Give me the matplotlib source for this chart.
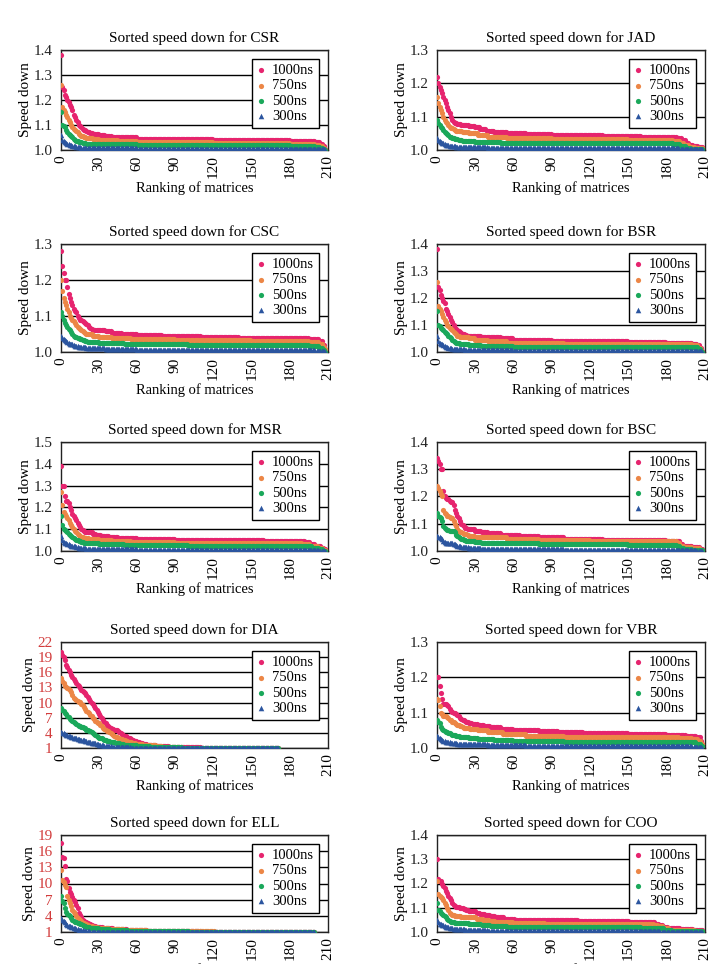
import matplotlib
matplotlib.use("Agg")
import matplotlib.pyplot as plt
import numpy as np

plt.rcParams['font.family'] = ['Liberation Serif', 'DejaVu Serif']

# series data: a float is one matrix, a tuple (value, count) is a run of equal values
csr_1000 = [1.38, 1.25, 1.24, 1.22, 1.21, 1.20, 1.19, 1.18, 1.17, 1.16, 1.14, 1.13, 1.12, 1.11, 1.10,
            1.095, 1.09, 1.085, 1.08, 1.078, 1.075, (1.07, 2), (1.066, 2), (1.062, 5), (1.06, 5),
            (1.057, 5), (1.053, 10), (1.05, 10), (1.045, 30), (1.042, 30), (1.04, 30), (1.038, 30),
            (1.035, 20), (1.03, 4), (1.025, 2), (1.015, 2), (1.005, 1)]
csr_750 = [1.26, 1.17, 1.16, 1.15, 1.14, 1.13, 1.12, 1.11, 1.10, 1.09, 1.085, 1.08, 1.075, 1.07, 1.065,
           1.06, 1.057, 1.055, 1.052, 1.05, (1.047, 5), (1.044, 5), (1.04, 15), (1.035, 15), (1.032, 30),
           (1.03, 30), (1.028, 60), (1.025, 20), (1.02, 4), (1.015, 2), (1.008, 2), (1.0, 1)]
csr_500 = [1.15, 1.10, 1.095, 1.09, 1.08, 1.07, 1.065, 1.06, 1.055, 1.05, 1.045, 1.04, 1.037, 1.035, 1.033,
           1.031, 1.03, 1.028, 1.027, 1.026, (1.025, 10), (1.022, 30), (1.02, 60), (1.018, 60), (1.015, 20),
           (1.012, 4), (1.008, 2), (1.004, 2), (1.0, 1)]
csr_300 = [1.06, 1.04, 1.035, 1.03, 1.028, 1.025, 1.022, 1.02, 1.018, 1.017, 1.015, 1.014, 1.013, 1.012,
           1.011, 1.01, (1.009, 4), (1.008, 10), (1.006, 30), (1.005, 60), (1.004, 80), (1.003, 4),
           (1.002, 4), (1.0, 1)]

jad_1000 = [1.22, 1.20, 1.19, 1.18, 1.17, 1.16, 1.15, 1.14, 1.13, 1.12, 1.11, 1.10, 1.09, 1.085, 1.082, 1.08,
            1.079, 1.078, 1.077, 1.076, (1.075, 5), (1.072, 5), (1.068, 4), (1.063, 5), (1.058, 6),
            (1.055, 10), (1.05, 15), (1.048, 20), (1.045, 40), (1.042, 30), (1.04, 20), (1.038, 8),
            (1.035, 4), (1.03, 3), (1.022, 3), (1.015, 3), (1.012, 4), (1.01, 4)]
jad_750 = [1.16, 1.14, 1.13, 1.12, 1.11, 1.10, 1.09, 1.085, 1.08, 1.075, 1.07, 1.067, 1.065, 1.063, 1.06,
           (1.057, 5), (1.055, 5), (1.05, 7), (1.045, 8), (1.04, 15), (1.036, 35), (1.033, 60), (1.03, 35),
           (1.028, 6), (1.022, 3), (1.015, 4), (1.01, 4), (1.007, 7)]
jad_500 = [1.09, 1.08, 1.075, 1.07, 1.065, 1.06, 1.055, 1.05, 1.047, 1.044, 1.04, 1.038, 1.036, 1.035, 1.034,
           1.033, 1.032, 1.031, 1.031, 1.03, (1.028, 10), (1.025, 20), (1.022, 50), (1.02, 85), (1.018, 6),
           (1.012, 4), (1.007, 4), (1.004, 10)]
jad_300 = [1.035, 1.03, 1.028, 1.025, 1.022, 1.02, 1.018, 1.016, 1.015, 1.014, 1.013, 1.012, 1.012, 1.011,
           1.011, (1.01, 10), (1.008, 15), (1.006, 40), (1.005, 110), (1.004, 8), (1.002, 11)]

csc_1000 = [1.28, 1.24, 1.22, 1.20, 1.20, 1.18, 1.16, 1.15, 1.14, 1.13, 1.12, 1.115, 1.11, 1.10, 1.095, 1.09,
            1.088, 1.085, 1.082, 1.08, 1.078, 1.075, 1.07, 1.066, 1.064, (1.062, 5), (1.06, 5), (1.057, 5),
            (1.053, 8), (1.05, 12), (1.048, 20), (1.045, 30), (1.042, 30), (1.04, 30), (1.038, 25),
            (1.035, 8), (1.03, 3), (1.02, 2), (1.005, 1)]
csc_750 = [1.20, 1.17, 1.15, 1.14, 1.13, 1.12, 1.11, 1.10, 1.095, 1.09, 1.085, 1.08, 1.075, 1.07, 1.068,
           1.065, 1.06, 1.058, 1.055, 1.052, (1.05, 5), (1.045, 5), (1.042, 10), (1.04, 15), (1.035, 35),
           (1.033, 60), (1.03, 45), (1.028, 8), (1.022, 3), (1.015, 2), (1.008, 1)]
csc_500 = [1.11, 1.10, 1.09, 1.08, 1.075, 1.07, 1.065, 1.06, 1.055, 1.05, 1.045, 1.043, 1.042, 1.04, 1.038,
           1.037, 1.035, 1.033, 1.032, 1.031, 1.03, 1.029, (1.027, 8), (1.025, 20), (1.022, 50), (1.02, 95),
           (1.018, 8), (1.012, 3), (1.006, 2), (1.0, 1)]
csc_300 = [1.045, 1.04, 1.035, 1.032, 1.03, 1.028, 1.025, 1.023, 1.022, 1.021, 1.02, 1.018, 1.017, 1.016,
           1.015, (1.013, 5), (1.012, 5), (1.01, 10), (1.008, 25), (1.006, 40), (1.005, 100), (1.004, 5),
           (1.002, 3), (1.0, 1)]

bsr_1000 = [1.38, 1.24, 1.23, 1.21, 1.20, 1.19, 1.18, 1.16, 1.15, 1.14, 1.13, 1.12, 1.11, 1.10, 1.09, 1.085,
            1.08, 1.078, 1.075, 1.07, 1.068, 1.065, 1.063, 1.062, (1.06, 6), (1.058, 5), (1.055, 15),
            (1.05, 10), (1.045, 30), (1.042, 30), (1.04, 30), (1.038, 30), (1.035, 20), (1.03, 4),
            (1.025, 2), (1.015, 2), (1.005, 1)]
bsr_750 = [1.26, 1.17, 1.16, 1.15, 1.14, 1.13, 1.12, 1.11, 1.10, 1.095, 1.09, 1.085, 1.08, 1.075, 1.07,
           1.065, 1.06, 1.058, 1.057, 1.056, (1.055, 5), (1.05, 5), (1.045, 10), (1.04, 15), (1.035, 45),
           (1.03, 80), (1.028, 20), (1.025, 5), (1.015, 2), (1.007, 1), (1.0, 1)]
bsr_500 = [1.15, 1.10, 1.095, 1.09, 1.085, 1.08, 1.075, 1.07, 1.065, 1.06, 1.055, 1.05, 1.045, 1.04, 1.037,
           1.035, 1.033, 1.032, 1.031, 1.03, (1.028, 5), (1.025, 10), (1.022, 25), (1.02, 135), (1.018, 10),
           (1.01, 2), (1.004, 1), (1.0, 1)]
bsr_300 = [1.06, 1.04, 1.035, 1.03, 1.028, 1.025, 1.022, 1.02, 1.018, 1.016, 1.015, 1.014, 1.012, 1.011,
           1.011, (1.01, 7), (1.008, 13), (1.006, 25), (1.005, 60), (1.004, 85), (1.002, 3), (1.0, 1)]

msr_1000 = [1.39, 1.30, 1.30, 1.25, 1.23, 1.23, 1.22, 1.20, 1.19, 1.17, 1.16, 1.15, 1.14, 1.13, 1.12, 1.11,
            1.10, 1.095, 1.09, 1.088, (1.085, 5), (1.08, 3), (1.075, 4), (1.07, 6), (1.065, 7), (1.06, 15),
            (1.055, 30), (1.052, 40), (1.05, 30), (1.048, 25), (1.045, 7), (1.04, 4), (1.03, 4), (1.025, 5),
            (1.015, 2), (1.008, 2)]
msr_750 = [1.27, 1.21, 1.18, 1.17, 1.16, 1.15, 1.14, 1.13, 1.12, 1.11, 1.10, 1.09, 1.085, 1.08, 1.075, 1.07,
           1.065, 1.062, (1.06, 4), (1.055, 8), (1.05, 10), (1.045, 15), (1.04, 35), (1.038, 60), (1.035, 40),
           (1.033, 6), (1.025, 6), (1.015, 4), (1.005, 3)]
msr_500 = [1.16, 1.12, 1.10, 1.095, 1.09, 1.085, 1.08, 1.075, 1.07, 1.065, 1.06, 1.055, 1.052, 1.05, 1.047,
           1.045, 1.043, 1.04, (1.037, 4), (1.035, 8), (1.03, 20), (1.028, 50), (1.025, 90), (1.022, 8),
           (1.015, 5), (1.007, 3), (1.0, 3)]
msr_300 = [1.07, 1.05, 1.04, 1.038, 1.035, 1.033, 1.03, 1.028, 1.025, 1.023, 1.022, 1.021, 1.02, 1.018,
           1.016, 1.015, (1.012, 4), (1.01, 10), (1.008, 30), (1.006, 40), (1.005, 95), (1.003, 8), (1.001, 6)]

bsc_1000 = [1.34, 1.33, 1.32, 1.30, 1.30, 1.22, 1.20, 1.195, 1.19, 1.19, 1.185, 1.18, 1.18, 1.17, 1.15, 1.14,
            1.13, 1.12, 1.11, 1.10, 1.095, 1.09, 1.085, 1.083, 1.081, (1.08, 5), (1.075, 5), (1.07, 5),
            (1.065, 10), (1.06, 15), (1.055, 15), (1.05, 20), (1.045, 30), (1.042, 35), (1.04, 15),
            (1.038, 8), (1.035, 3), (1.025, 2), (1.02, 7), (1.015, 6), (1.008, 3)]
bsc_750 = [1.24, 1.23, 1.22, 1.21, 1.20, 1.15, 1.14, 1.135, 1.13, 1.13, 1.125, 1.12, 1.12, 1.11, 1.10, 1.09,
           1.08, 1.075, 1.07, 1.068, 1.065, 1.063, 1.062, 1.061, 1.06, (1.055, 5), (1.053, 10), (1.05, 15),
           (1.045, 25), (1.04, 40), (1.037, 50), (1.035, 18), (1.03, 3), (1.02, 3), (1.015, 6), (1.01, 6),
           (1.005, 3)]
bsc_500 = [1.14, 1.13, 1.125, 1.12, 1.11, 1.09, 1.085, 1.08, 1.078, 1.076, 1.075, 1.075, 1.074, 1.072, 1.07,
           1.06, 1.055, 1.05, 1.047, 1.045, 1.043, 1.042, 1.04, 1.038, 1.037, (1.035, 5), (1.032, 5),
           (1.03, 15), (1.028, 30), (1.025, 70), (1.023, 38), (1.018, 3), (1.012, 3), (1.008, 6),
           (1.005, 6), (1.002, 3)]
bsc_300 = [1.055, 1.053, 1.05, 1.048, 1.045, 1.035, 1.032, 1.03, 1.03, 1.03, 1.03, 1.029, 1.028, 1.027,
           1.025, 1.023, 1.02, 1.018, 1.017, 1.016, (1.015, 5), (1.01, 10), (1.008, 25), (1.006, 40),
           (1.005, 88), (1.004, 5), (1.002, 10), (1.0, 6)]

dia_1000 = [20, 19.5, 19, 18.5, 17.5, 17, 16.4, 16, 15.5, 15, 14.6, 14.2, 13.8, 13.5, 13.2, 12.8, 12.5, 12.2,
            12, 11.8, 11.5, 11.2, 10.8, 10.4, 10, 9.7, 9.3, 8.9, 8.5, 8.1, 7.7, 7.3, 7, 6.6, 6.2, 5.9, 5.6,
            5.3, 5.1, 4.9, 4.8, 4.7, 4.6, 4.6, 4.5, 4.3, 4.1, 3.9, 3.7, 3.5, 3.4, 3.3, 3.1, 3, 2.9, 2.7, 2.6,
            2.5, 2.4, 2.3, 2.2, 2.1, 2, 2, 1.9, 1.8, 1.8, 1.7, 1.6, 1.6, (1.5, 5), (1.4, 5), (1.3, 5),
            (1.2, 10), (1.1, 15), (1.05, 62)]
dia_750 = [14.8, 14.3, 13.8, 13.3, 13, 12.8, 12.6, 12.5, 12, 11.5, 11, 10.7, 10.5, 10.3, 10.2, 10.1, 9.8, 9.5,
           9.2, 8.8, 8.4, 8.1, 7.9, 7.6, 7.3, 7, 6.7, 6.4, 6.2, 6, 5.9, 5.6, 5.3, 5, 4.8, 4.6, 4.4, 4.3, 4.2,
           4, 3.8, 3.6, 3.4, 3.2, 3.1, 3, 2.9, 2.8, 2.7, 2.6, 2.5, 2.4, 2.3, 2.2, 2.1, 2.1, 2, 1.9, 1.9, 1.8,
           (1.7, 5), (1.6, 5), (1.5, 5), (1.35, 5), (1.25, 5), (1.15, 10), (1.08, 15), (1.04, 62)]
dia_500 = [8.9, 8.6, 8.3, 8, 7.7, 7.4, 7.1, 6.8, 6.6, 6.4, 6.2, 6, 5.8, 5.6, 5.4, 5.3, 5.2, 5.1, 5, 4.9, 4.6,
           4.5, 4.4, 4.3, 4.2, 4, 3.8, 3.6, 3.4, 3.2, 3, 3, 2.9, 2.8, 2.6, 2.5, 2.4, 2.3, 2.3, 2.2, 2.2, 2.1,
           2.1, 2, 2, 1.9, 1.9, 1.8, 1.8, 1.7, (1.65, 5), (1.55, 5), (1.45, 5), (1.35, 5), (1.25, 5),
           (1.18, 10), (1.1, 10), (1.05, 15), (1.03, 62)]
dia_300 = [4.1, 4, 3.9, 3.8, 3.6, 3.5, 3.4, 3.3, 3.2, 3.1, 3, 2.9, 2.9, 2.8, 2.7, 2.6, 2.6, 2.5, 2.5, 2.4,
           2.3, 2.2, 2.1, 2.1, 2, 2, 1.9, 1.9, 1.8, 1.7, 1.66, 1.6, 1.55, 1.5, 1.45, 1.4, 1.38, 1.35, 1.33,
           1.3, (1.25, 5), (1.2, 5), (1.12, 5), (1.08, 10), (1.05, 15), (1.02, 92)]

vbr_1000 = [1.20, 1.20, 1.175, 1.155, 1.14, 1.125, 1.125, 1.124, 1.123, 1.12, 1.11, 1.105, 1.103, 1.10,
            1.098, 1.095, 1.092, 1.09, 1.085, 1.083, 1.08, 1.078, 1.076, 1.075, 1.073, 1.072, 1.071, 1.07,
            (1.068, 4), (1.065, 5), (1.062, 5), (1.06, 8), (1.055, 10), (1.05, 20), (1.047, 15), (1.044, 20),
            (1.042, 35), (1.04, 30), (1.038, 15), (1.035, 8), (1.03, 4), (1.02, 1), (1.01, 1)]
vbr_750 = [1.14, 1.135, 1.12, 1.10, 1.095, 1.09, 1.09, 1.09, 1.088, 1.085, 1.08, 1.078, 1.075, 1.073, 1.07,
           1.068, 1.066, 1.065, 1.063, 1.062, 1.06, (1.058, 5), (1.055, 6), (1.05, 8), (1.045, 12),
           (1.04, 18), (1.035, 30), (1.032, 50), (1.03, 40), (1.028, 10), (1.025, 5), (1.02, 2), (1.01, 2)]
vbr_500 = [1.08, 1.075, 1.07, 1.06, 1.055, 1.05, 1.048, 1.046, 1.045, 1.043, 1.042, 1.04, 1.038, 1.037,
           1.036, 1.035, 1.034, 1.033, 1.032, 1.031, (1.03, 5), (1.028, 7), (1.025, 13), (1.022, 15),
           (1.02, 40), (1.018, 90), (1.016, 13), (1.012, 4), (1.005, 2)]
vbr_300 = [1.035, 1.03, 1.028, 1.025, 1.022, 1.02, 1.019, 1.018, 1.018, 1.017, 1.016, 1.015, 1.015, 1.014,
           1.013, 1.013, 1.012, 1.012, (1.011, 7), (1.01, 15), (1.008, 30), (1.006, 50), (1.005, 80),
           (1.004, 5), (1.002, 3), (1.0, 1)]

ell_1000 = [17.5, 15, 14.7, 13.3, 10.8, 10.5, 9.1, 8.5, 8, 7.5, 7, 6.5, 6.1, 5.5, 4.5, 4.2, 3.8, 3.3, 3.0,
            2.9, 2.8, 2.6, 2.5, 2.4, 2.3, 2.2, 2.1, 2.05, 2, 1.95, (1.85, 3), (1.8, 4), (1.7, 4), (1.6, 5),
            (1.5, 6), (1.4, 8), (1.3, 8), (1.2, 10), (1.15, 12), (1.1, 20), (1.07, 20), (1.05, 30),
            (1.03, 40)]
ell_750 = [12.5, 10.6, 10.2, 9.8, 9.4, 7.6, 7, 6.4, 5.8, 5.1, 4.8, 4.4, 4, 3.6, 3.4, 3.2, 3, 2.7, 2.6, 2.5,
           2.4, 2.3, 2.2, 2.1, 2.05, 2, (1.9, 3), (1.8, 4), (1.7, 5), (1.6, 5), (1.5, 7), (1.4, 8), (1.3, 10),
           (1.2, 13), (1.15, 15), (1.1, 25), (1.05, 30), (1.02, 49)]
ell_500 = [7.7, 6.8, 6.4, 5.5, 4.8, 4.4, 4.1, 3.9, 3.6, 3.3, 3.0, 2.9, 2.8, 2.7, 2.6, 2.5, 2.4, 2.3, 2.2,
           2.1, 2.0, 1.95, 1.9, (1.8, 3), (1.7, 4), (1.6, 4), (1.5, 5), (1.4, 6), (1.3, 8), (1.25, 8),
           (1.2, 10), (1.15, 10), (1.1, 20), (1.05, 30), (1.02, 69)]
ell_300 = [3.6, 3.3, 3.0, 2.8, 2.4, 2.3, 2.2, 2.1, 1.9, 1.85, 1.8, 1.7, 1.6, 1.5, 1.45, 1.4, 1.35, 1.3, 1.25,
           1.2, 1.15, 1.12, 1.1, (1.08, 7), (1.06, 10), (1.05, 15), (1.03, 25), (1.02, 40), (1.01, 80)]

coo_1000 = [1.30, 1.22, 1.21, 1.21, 1.20, 1.19, 1.18, 1.17, 1.16, 1.15, 1.14, 1.13, 1.12, 1.11, 1.108,
            1.105, 1.103, 1.102, 1.10, 1.098, 1.097, 1.095, 1.093, 1.092, 1.09, (1.088, 3), (1.085, 3),
            (1.08, 3), (1.075, 4), (1.07, 4), (1.065, 4), (1.06, 7), (1.055, 8), (1.05, 20), (1.048, 30),
            (1.045, 40), (1.042, 15), (1.04, 5), (1.035, 3), (1.03, 3), (1.02, 4), (1.015, 10), (1.012, 10),
            (1.008, 8)]
coo_750 = [1.21, 1.155, 1.15, 1.145, 1.14, 1.13, 1.12, 1.11, 1.10, 1.09, 1.08, 1.075, 1.07, 1.069, 1.068,
           1.067, 1.066, 1.065, 1.064, 1.063, (1.062, 5), (1.06, 6), (1.055, 5), (1.05, 5), (1.045, 5),
           (1.04, 14), (1.038, 25), (1.035, 40), (1.033, 45), (1.03, 3), (1.025, 4), (1.015, 5), (1.01, 10),
           (1.007, 10), (1.003, 7)]
coo_500 = [1.12, 1.09, 1.085, 1.08, 1.075, 1.07, 1.065, 1.06, 1.055, 1.05, 1.045, 1.042, 1.04, 1.04, 1.039,
           1.039, 1.038, 1.038, (1.037, 7), (1.035, 5), (1.032, 5), (1.03, 7), (1.025, 13), (1.022, 25),
           (1.02, 80), (1.018, 12), (1.015, 6), (1.01, 6), (1.005, 10), (1.003, 15)]
coo_300 = [1.05, 1.04, 1.035, 1.032, 1.03, 1.028, 1.025, 1.022, 1.02, 1.019, 1.018, 1.016, 1.015, 1.014,
           1.013, 1.012, (1.011, 6), (1.01, 8), (1.008, 10), (1.006, 25), (1.005, 55), (1.004, 55),
           (1.002, 10), (1.0, 24)]

labels = ['1000ns', '750ns', '500ns', '300ns']
colors = ['#e6246e', '#ec8646', '#1aa85a', '#2b559f']
markers = ['o', 'o', 'o', '^']

formats = ['CSR', 'JAD', 'CSC', 'BSR', 'MSR', 'BSC', 'DIA', 'VBR', 'ELL', 'COO']
series = [
    [csr_1000, csr_750, csr_500, csr_300],
    [jad_1000, jad_750, jad_500, jad_300],
    [csc_1000, csc_750, csc_500, csc_300],
    [bsr_1000, bsr_750, bsr_500, bsr_300],
    [msr_1000, msr_750, msr_500, msr_300],
    [bsc_1000, bsc_750, bsc_500, bsc_300],
    [dia_1000, dia_750, dia_500, dia_300],
    [vbr_1000, vbr_750, vbr_500, vbr_300],
    [ell_1000, ell_750, ell_500, ell_300],
    [coo_1000, coo_750, coo_500, coo_300],
]
yticks = [
    [1.0, 1.1, 1.2, 1.3, 1.4],
    [1.0, 1.1, 1.2, 1.3],
    [1.0, 1.1, 1.2, 1.3],
    [1.0, 1.1, 1.2, 1.3, 1.4],
    [1.0, 1.1, 1.2, 1.3, 1.4, 1.5],
    [1.0, 1.1, 1.2, 1.3, 1.4],
    [1, 4, 7, 10, 13, 16, 19, 22],
    [1.0, 1.1, 1.2, 1.3],
    [1, 4, 7, 10, 13, 16, 19],
    [1.0, 1.1, 1.2, 1.3, 1.4],
]
xticks = [0, 30, 60, 90, 120, 150, 180, 210]


def expand(items):
    out = []
    for it in items:
        if isinstance(it, tuple):
            out += [it[0]] * it[1]
        else:
            out.append(it)
    return np.array(out, dtype=float)


W, H = 719, 964
fig = plt.figure(figsize=(W / 100, H / 100), dpi=100)

# axes boxes in pixels (top, bottom) per row, (left, right) per column
rows = [(50, 150), (244, 352), (442, 551), (642, 748), (835, 932)]
cols = [(61, 328), (437, 705)]

for i, name in enumerate(formats):
    top, bot = rows[i // 2]
    left, right = cols[i % 2]
    ax = fig.add_axes([left / W, 1 - bot / H, (right - left) / W, (bot - top) / H])

    for k in range(4):
        y = expand(series[i][k])
        x = np.arange(len(y))
        ax.scatter(x, y, s=14 if k < 3 else 16, marker=markers[k], color=colors[k],
                   linewidths=0, label=labels[k], zorder=3 + k)

    yt = yticks[i]
    ax.set_ylim(yt[0], yt[-1])
    ax.set_yticks(yt)
    if isinstance(yt[0], int):
        ax.set_yticklabels([str(v) for v in yt])
        tick_color = '#d23c3c'
    else:
        ax.set_yticklabels(['%.1f' % v for v in yt])
        tick_color = '#222222'
    ax.set_xlim(0, 210)
    ax.set_xticks(xticks)
    ax.set_xticklabels([str(v) for v in xticks], rotation=90)
    ax.tick_params(axis='both', length=0, labelsize=11, pad=4)
    ax.tick_params(axis='y', labelcolor=tick_color, pad=6)
    ax.grid(axis='y', color='black', linewidth=1.0, zorder=1)
    ax.set_axisbelow(True)
    for sp in ax.spines.values():
        sp.set_color('#222222')
        sp.set_linewidth(1.0)

    ax.set_title('Sorted speed down for ' + name, fontsize=11, pad=6)
    ax.set_xlabel('Ranking of matrices', fontsize=10.5, labelpad=2)
    ax.set_ylabel('Speed down', fontsize=11, labelpad=1)

    leg = ax.legend(loc='upper right', fontsize=10.5, frameon=True, fancybox=False,
                    scatterpoints=1, markerscale=1.0, handlelength=0.5, handletextpad=0.5,
                    labelspacing=0.15, borderpad=0.35, borderaxespad=0.6)
    leg.get_frame().set_edgecolor('black')
    leg.get_frame().set_linewidth(1.0)
    leg.get_frame().set_alpha(1.0)
    leg.set_zorder(10)

fig.savefig('out.png', dpi=100)
